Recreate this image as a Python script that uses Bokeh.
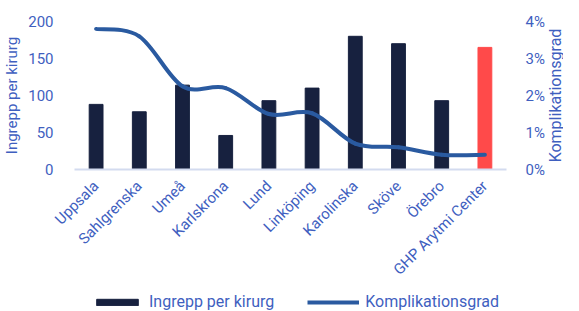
import numpy as np
from bokeh.plotting import figure
from bokeh.layouts import column, row
from bokeh.models import (Range1d, LinearAxis, FixedTicker, Legend, LegendItem,
                          ColumnDataSource, Label)
from bokeh.embed import file_html
from bokeh.resources import INLINE

categories = ["Uppsala", "Sahlgrenska", "Umeå", "Karlskrona", "Lund", "Linköping",
              "Karolinska", "Sköve", "Örebro", "GHP Arytmi Center"]
ingrepp = [88, 78, 114, 46, 93, 110, 180, 170, 93, 165]
komplikation = [3.8, 3.6, 2.25, 2.2, 1.5, 1.52, 0.7, 0.6, 0.4, 0.4]
series_names = ["Ingrepp per kirurg", "Komplikationsgrad"]
bar_colors = ["#17213f"] * 9 + ["#ff4a4a"]

LABEL = "#3f5fbf"
LINE = "#2a5aa0"
FONT = "Roboto"

xs = list(range(len(categories)))
H = 288

p = figure(width=547, height=H, output_backend="svg", toolbar_location=None,
           x_range=Range1d(-0.5, len(categories) - 0.5), y_range=Range1d(0, 200),
           min_border_left=66, min_border_right=37, min_border_top=21,
           min_border_bottom=119)
p.outline_line_color = None
p.xgrid.visible = False
p.ygrid.visible = False

p.extra_y_ranges = {"pct": Range1d(0, 4)}

src = ColumnDataSource(dict(x=xs, top=ingrepp, color=bar_colors))
p.vbar(x="x", top="top", width=0.32, color="color", source=src)

# smooth curve (Catmull-Rom -> cubic Bezier) through the data points
x = np.array(xs, dtype=float)
y = np.array(komplikation, dtype=float)
xp = np.concatenate([[x[0]], x, [x[-1]]])
yp = np.concatenate([[y[0]], y, [y[-1]]])
x0, y0 = x[:-1], y[:-1]
x1, y1 = x[1:], y[1:]
cx0 = x0 + (xp[2:-1] - xp[0:-3]) / 6
cy0 = y0 + (yp[2:-1] - yp[0:-3]) / 6
cx1 = x1 - (xp[3:] - xp[1:-2]) / 6
cy1 = y1 - (yp[3:] - yp[1:-2]) / 6
p.bezier(x0=x0, y0=y0, x1=x1, y1=y1, cx0=cx0, cy0=cy0, cx1=cx1, cy1=cy1,
         line_color=LINE, line_width=4, y_range_name="pct", line_cap="round")

# x axis
xa = p.xaxis[0]
xa.ticker = FixedTicker(ticks=xs)
xa.major_label_overrides = {i: c for i, c in enumerate(categories)}
xa.major_label_orientation = np.pi / 4
xa.axis_line_color = "#d3dbef"
xa.axis_line_width = 2
xa.major_tick_line_color = None
xa.minor_tick_line_color = None
xa.major_label_text_color = LABEL
xa.major_label_text_font = FONT
xa.major_label_text_font_size = "15px"
xa.major_label_standoff = 8

# left axis
ya = p.yaxis[0]
ya.ticker = FixedTicker(ticks=[0, 50, 100, 150, 200])
ya.axis_line_color = None
ya.major_tick_line_color = None
ya.minor_tick_line_color = None
ya.major_label_text_color = LABEL
ya.major_label_text_font = FONT
ya.major_label_text_font_size = "15px"
ya.major_label_standoff = 15
ya.axis_label = series_names[0]
ya.axis_label_text_color = LABEL
ya.axis_label_text_font = FONT
ya.axis_label_text_font_style = "normal"
ya.axis_label_text_font_size = "15px"
ya.axis_label_standoff = 4

ra = LinearAxis(y_range_name="pct")
ra.ticker = FixedTicker(ticks=[0, 1, 2, 3, 4])
ra.major_label_overrides = {0: "0%", 1: "1%", 2: "2%", 3: "3%", 4: "4%"}
ra.axis_line_color = None
ra.major_tick_line_color = None
ra.minor_tick_line_color = None
ra.major_label_text_color = LABEL
ra.major_label_text_font = FONT
ra.major_label_text_font_size = "15px"
ra.major_label_standoff = 13
p.add_layout(ra, "right")

# narrow strip holding the right axis title, reading bottom-to-top
p3 = figure(width=16, height=H, output_backend="svg", toolbar_location=None,
            x_range=Range1d(0, 1), y_range=Range1d(0, 1),
            min_border_left=0, min_border_right=0, min_border_top=0,
            min_border_bottom=0)
p3.axis.visible = False
p3.grid.visible = False
p3.outline_line_color = None
p3.add_layout(Label(x=8, y=74, x_units="screen", y_units="screen",
                    text=series_names[1], angle=np.pi / 2, text_align="center",
                    text_baseline="middle", text_color=LABEL, text_font=FONT,
                    text_font_size="16px"))

# legend strip
p2 = figure(width=563, height=311 - H, output_backend="svg", toolbar_location=None,
            x_range=Range1d(0, 1), y_range=Range1d(0, 1),
            min_border_left=66, min_border_right=0, min_border_top=0,
            min_border_bottom=0)
p2.axis.visible = False
p2.grid.visible = False
p2.outline_line_color = None
lb = p2.vbar(x=[0.5], top=[1], width=0.3, color="#17213f", visible=False)
ll = p2.line(x=[0, 1], y=[0.5, 0.5], line_color=LINE, line_width=4, visible=False)
legend = Legend(items=[LegendItem(label=series_names[0], renderers=[lb]),
                       LegendItem(label=series_names[1], renderers=[ll])],
                orientation="horizontal", location=(25, 0),
                glyph_width=52, glyph_height=8, label_standoff=6, spacing=33,
                label_text_color=LABEL, label_text_font=FONT,
                label_text_font_size="16px", border_line_color=None,
                background_fill_alpha=0, padding=0, margin=0)
p2.add_layout(legend, "center")

layout = column(row(p, p3, spacing=0), p2, spacing=0)
open("out.html", "w").write(file_html(layout, INLINE))
